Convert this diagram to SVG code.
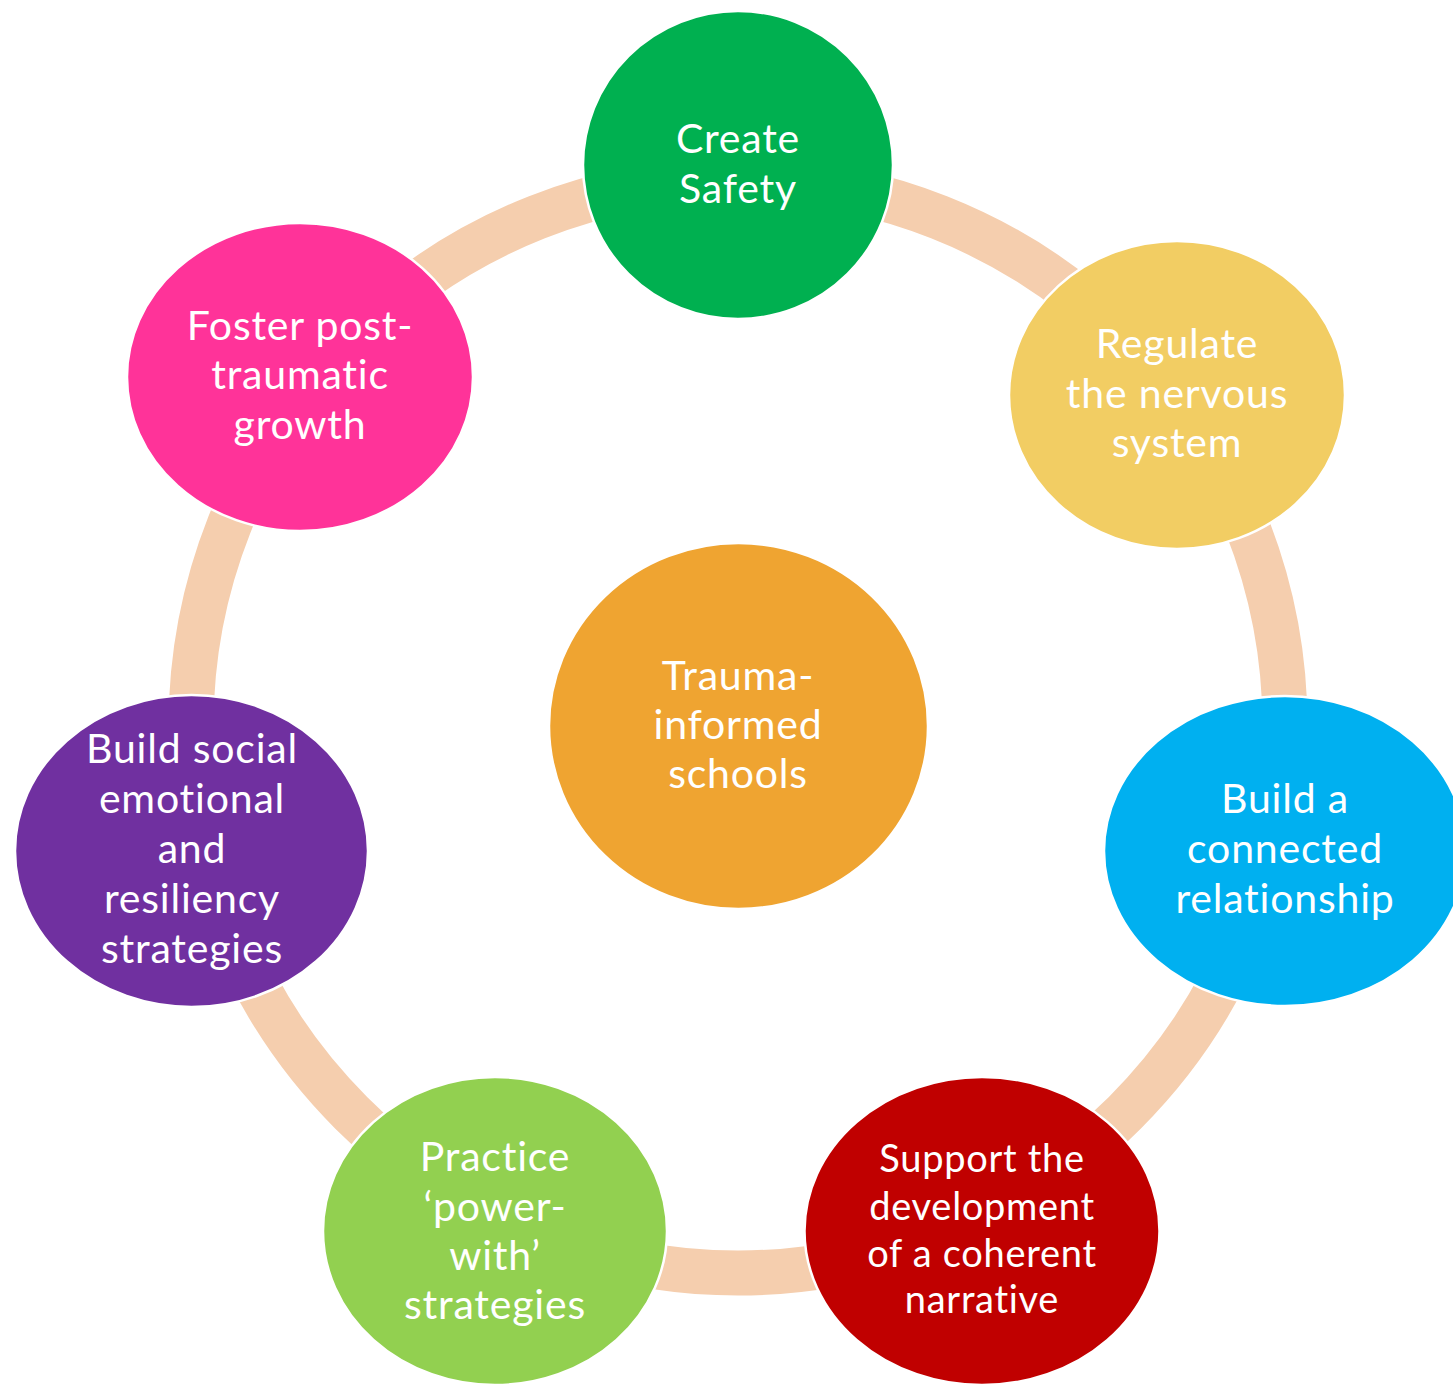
<svg xmlns="http://www.w3.org/2000/svg" width="1453" height="1385" viewBox="0 0 1453 1385">
<style>
.node{stroke:#FFFFFF;stroke-width:2.5}
.lbl{font-family:Lato,"Open Sans","Liberation Sans",sans-serif;font-size:41px;letter-spacing:0.8px;fill:#FFFFFF;text-anchor:middle}
.sm{font-size:38px;letter-spacing:0.7px}
.ring{fill:none;stroke:#F5CEAE;stroke-width:45}
</style>
<rect width="1453" height="1385" fill="#FFFFFF"/>
<g id="connectors">
<circle class="ring" cx="738" cy="726" r="547"/>
</g>
<g id="node-center">
<ellipse class="node" cx="738.5" cy="726" rx="189.5" ry="183" fill="#EFA431"/>
<text class="lbl" x="738" y="690">Trauma-</text>
<text class="lbl" x="738" y="739">informed</text>
<text class="lbl" x="738" y="788">schools</text>
</g>
<g id="node-safety">
<ellipse class="node" cx="738" cy="165" rx="155" ry="154" fill="#00B050"/>
<text class="lbl" x="738" y="153">Create</text>
<text class="lbl" x="738" y="203">Safety</text>
</g>
<g id="node-regulate">
<ellipse class="node" cx="1177" cy="395" rx="168" ry="154" fill="#F2CD63"/>
<text class="lbl" x="1177" y="358">Regulate</text>
<text class="lbl" x="1177" y="408">the nervous</text>
<text class="lbl" x="1177" y="457">system</text>
</g>
<g id="node-relationship">
<ellipse class="node" cx="1285" cy="851" rx="181" ry="155" fill="#00B0F0"/>
<text class="lbl" x="1285" y="813">Build a</text>
<text class="lbl" x="1285" y="863">connected</text>
<text class="lbl" x="1285" y="913">relationship</text>
</g>
<g id="node-narrative">
<ellipse class="node" cx="982" cy="1231" rx="177.5" ry="154" fill="#C00000"/>
<text class="lbl sm" x="982" y="1172">Support the</text>
<text class="lbl sm" x="982" y="1220">development</text>
<text class="lbl sm" x="982" y="1267">of a coherent</text>
<text class="lbl sm" x="982" y="1313">narrative</text>
</g>
<g id="node-power">
<ellipse class="node" cx="495" cy="1231" rx="172" ry="154" fill="#92D050"/>
<text class="lbl" x="495" y="1171">Practice</text>
<text class="lbl" x="495" y="1221">‘power-</text>
<text class="lbl" x="495" y="1270">with’</text>
<text class="lbl" x="495" y="1319">strategies</text>
</g>
<g id="node-social">
<ellipse class="node" cx="191.5" cy="851" rx="176.5" ry="156" fill="#7030A0"/>
<text class="lbl" x="192" y="763">Build social</text>
<text class="lbl" x="192" y="813">emotional</text>
<text class="lbl" x="192" y="863">and</text>
<text class="lbl" x="192" y="913">resiliency</text>
<text class="lbl" x="192" y="963">strategies</text>
</g>
<g id="node-growth">
<ellipse class="node" cx="300" cy="377" rx="173" ry="154" fill="#FF3399"/>
<text class="lbl" x="300" y="340">Foster post-</text>
<text class="lbl" x="300" y="389">traumatic</text>
<text class="lbl" x="300" y="439">growth</text>
</g>
</svg>
